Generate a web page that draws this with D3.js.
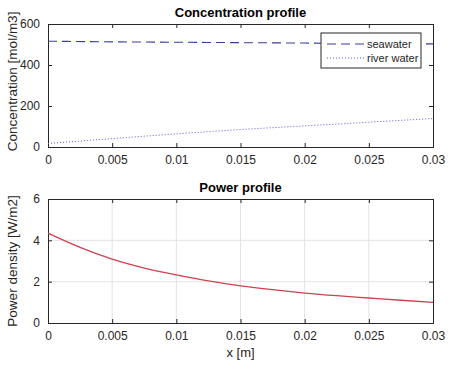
<!DOCTYPE html>
<html>
<head>
<meta charset="utf-8">
<script src="https://cdn.jsdelivr.net/npm/d3@7"></script>
<style>
  body { margin: 0; background: #fff; }
  text { font-family: "Liberation Sans", Arial, sans-serif; fill: #262626; }
  .title { font-weight: bold; font-size: 13px; fill: #000; }
</style>
</head>
<body>
<div id="chart"></div>
<script>
// x positions [m]
var xs = [0, 0.005, 0.01, 0.015, 0.02, 0.025, 0.03];
var seawater = [516, 513, 511, 509, 507, 505, 503];
var riverwater = [17, 41, 64, 85, 103, 121, 139];

var xsPower = [0, 0.0025, 0.005, 0.0075, 0.01, 0.0125, 0.015, 0.0175, 0.02, 0.0225, 0.025, 0.0275, 0.03];
var power = [4.35, 3.66, 3.09, 2.66, 2.33, 2.04, 1.80, 1.61, 1.45, 1.32, 1.21, 1.10, 1.0];

var xTicks = [0, 0.005, 0.01, 0.015, 0.02, 0.025, 0.03];
var concTicks = [0, 200, 400, 600];
var powerTicks = [0, 2, 4, 6];

var width = 452, height = 366;
var left = 48, right = 433;

var svg = d3.select('#chart')
  .append('svg')
  .attr('width', width)
  .attr('height', height)

var x = d3.scaleLinear().domain([0, 0.03]).range([left, right]);
var yConc = d3.scaleLinear().domain([0, 600]).range([147, 24]);
var yPow = d3.scaleLinear().domain([0, 6]).range([323, 199]);

function fmt(d) { return d === 0 ? "0" : String(d); }

function drawAxes(y, yTicks, grid) {
  var top = y.range()[1], bottom = y.range()[0];
  var g = svg.append('g');

  if (grid) {
    g.selectAll('.gx').data(xTicks.slice(1, -1)).join('line')
      .attr('x1', d => x(d)).attr('x2', d => x(d))
      .attr('y1', top).attr('y2', bottom)
      .attr('stroke', '#e3e3e3').attr('stroke-width', 1)
    g.selectAll('.gy').data(yTicks.slice(1, -1)).join('line')
      .attr('x1', left).attr('x2', right)
      .attr('y1', d => y(d)).attr('y2', d => y(d))
      .attr('stroke', '#e3e3e3').attr('stroke-width', 1)
  }

  // inward ticks, both sides (box on)
  var xb = d3.axisBottom(x).tickValues(xTicks).tickSize(-4).tickFormat(fmt).tickPadding(8);
  var xt = d3.axisTop(x).tickValues(xTicks).tickSize(-4).tickFormat('');
  var yl = d3.axisLeft(y).tickValues(yTicks).tickSize(-4).tickFormat(fmt).tickPadding(8);
  var yr = d3.axisRight(y).tickValues(yTicks).tickSize(-4).tickFormat('');

  [[xb, 'translate(0,' + bottom + ')'], [xt, 'translate(0,' + top + ')'],
   [yl, 'translate(' + left + ',0)'], [yr, 'translate(' + right + ',0)']].forEach(function (a) {
    var ax = g.append('g').attr('transform', a[1]).call(a[0]);
    ax.select('.domain').attr('stroke', '#262626');
    ax.selectAll('.tick line').attr('stroke', '#262626');
    ax.selectAll('text').style('font-size', '12px').style('font-family', '"Liberation Sans", Arial, sans-serif').attr('fill', '#333');
  });
  return g;
}

// ---- top plot
drawAxes(yConc, concTicks, false);

var concLine = d3.line().x((d, i) => x(xs[i])).y(d => yConc(d)).curve(d3.curveMonotoneX);

svg.append('path').datum(seawater)
  .attr('d', concLine).attr('fill', 'none')
  .attr('stroke', '#3a3aa0').attr('stroke-width', 1.1)
  .attr('stroke-dasharray', '9,5')

svg.append('path').datum(riverwater)
  .attr('d', concLine).attr('fill', 'none')
  .attr('stroke', '#5a5ad0').attr('stroke-width', 1)
  .attr('stroke-dasharray', '1,2')

svg.append('text').attr('class', 'title')
  .attr('x', (left + right) / 2).attr('y', 17)
  .attr('text-anchor', 'middle').text('Concentration profile')

svg.append('text')
  .attr('transform', 'translate(17,' + (yConc(320)) + ') rotate(-90)')
  .attr('text-anchor', 'middle').style('font-size', '13.5px')
  .text('Concentration [mol/m3]')

// legend
var lg = svg.append('g').attr('transform', 'translate(321,33)');
lg.append('rect').attr('width', 100).attr('height', 35)
  .attr('fill', '#fff').attr('stroke', '#262626').attr('stroke-width', 1)
lg.append('line').attr('x1', 6).attr('x2', 43).attr('y1', 11).attr('y2', 11)
  .attr('stroke', '#3a3aa0').attr('stroke-width', 1.1).attr('stroke-dasharray', '9,5')
lg.append('line').attr('x1', 6).attr('x2', 43).attr('y1', 25).attr('y2', 25)
  .attr('stroke', '#5a5ad0').attr('stroke-width', 1).attr('stroke-dasharray', '1,2')
lg.append('text').attr('x', 46).attr('y', 15).style('font-size', '11px').text('seawater')
lg.append('text').attr('x', 46).attr('y', 29).style('font-size', '11px').text('river water')

// ---- bottom plot
drawAxes(yPow, powerTicks, true);

var powLine = d3.line().x((d, i) => x(xsPower[i])).y(d => yPow(d)).curve(d3.curveMonotoneX);

svg.append('path').datum(power)
  .attr('d', powLine).attr('fill', 'none')
  .attr('stroke', '#d0404e').attr('stroke-width', 1.3)

svg.append('text').attr('class', 'title')
  .attr('x', (left + right) / 2).attr('y', 192)
  .attr('text-anchor', 'middle').text('Power profile')

svg.append('text')
  .attr('transform', 'translate(17,' + (yPow(3)) + ') rotate(-90)')
  .attr('text-anchor', 'middle').style('font-size', '13.5px')
  .text('Power density [W/m2]')

svg.append('text')
  .attr('x', (left + right) / 2).attr('y', 357)
  .attr('text-anchor', 'middle').style('font-size', '13px')
  .text('x [m]')
</script>
</body>
</html>
